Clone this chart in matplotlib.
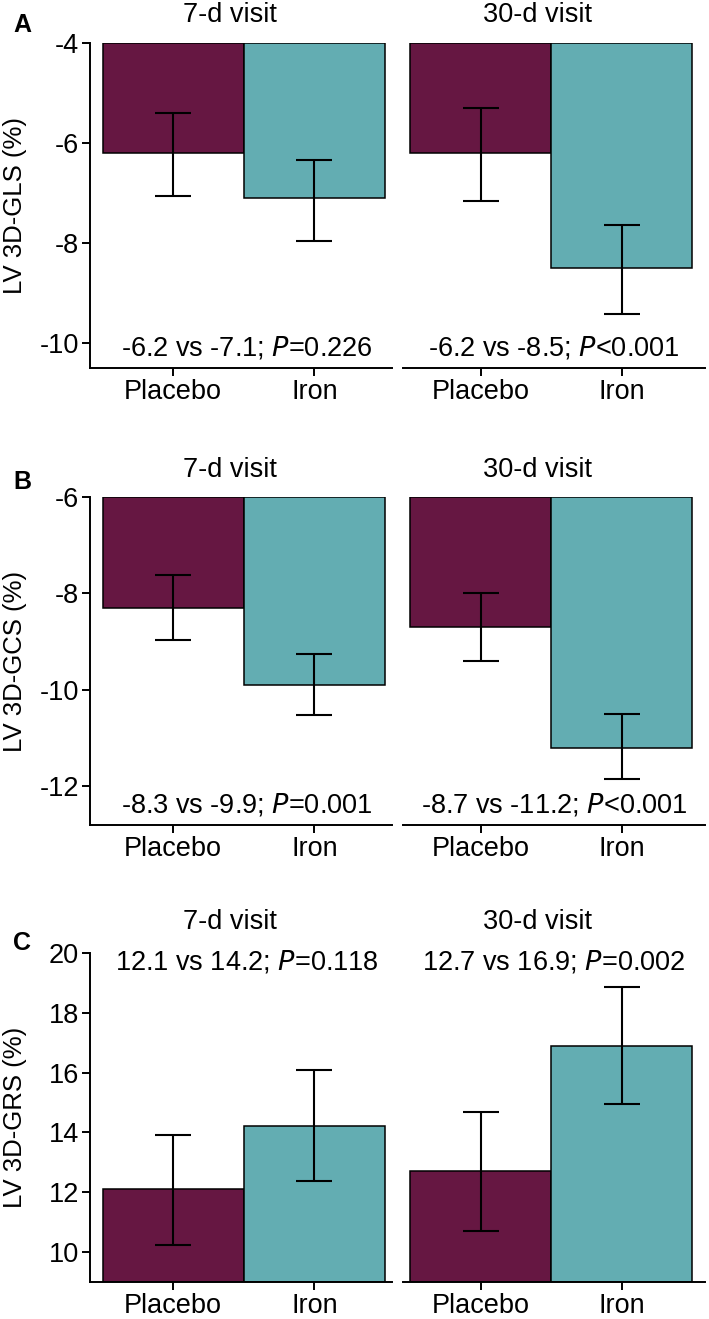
import numpy as np
import matplotlib
matplotlib.use("Agg")
import matplotlib.pyplot as plt

plt.rcParams['font.family'] = ['Liberation Sans', 'DejaVu Sans']
plt.rcParams['axes.unicode_minus'] = False

# data
groups = ["Placebo", "Iron"]
visits = ["7-d visit", "30-d visit"]

gls_mean = [[-6.2, -7.1], [-6.2, -8.5]]
gls_hi = [[-5.4, -6.34], [-5.3, -7.64]]
gls_lo = [[-7.05, -7.96], [-7.16, -9.42]]
gls_text = ["-6.2 vs -7.1; $\\it{P}$=0.226", "-6.2 vs -8.5; $\\it{P}$<0.001"]

gcs_mean = [[-8.3, -9.9], [-8.7, -11.2]]
gcs_hi = [[-7.62, -9.25], [-7.98, -10.5]]
gcs_lo = [[-8.96, -10.51], [-9.39, -11.85]]
gcs_text = ["-8.3 vs -9.9; $\\it{P}$=0.001", "-8.7 vs -11.2; $\\it{P}$<0.001"]

grs_mean = [[12.1, 14.2], [12.7, 16.9]]
grs_hi = [[13.9, 16.08], [14.68, 18.86]]
grs_lo = [[10.25, 12.37], [10.7, 14.95]]
grs_text = ["12.1 vs 14.2; $\\it{P}$=0.118", "12.7 vs 16.9; $\\it{P}$=0.002"]

colors = ["#661742", "#63adb2"]
FS = 19.5


def draw(ax, mean, hi, lo, base, ylim, yticks, note, note_y, first):
    x = np.arange(len(groups))
    mean = np.array(mean)
    ax.bar(x, mean - base, bottom=base, width=1.0, color=colors,
           edgecolor="black", linewidth=1.1, zorder=2)
    err = [mean - np.array(lo), np.array(hi) - mean]
    ax.errorbar(x, mean, yerr=err, fmt="none", ecolor="black",
                elinewidth=1.5, capsize=13, capthick=1.5, zorder=3)
    ax.set_ylim(*ylim)
    ax.set_xticks(x)
    ax.set_xticklabels(groups, fontsize=FS)
    ax.spines["top"].set_visible(False)
    ax.spines["right"].set_visible(False)
    for s in ax.spines.values():
        s.set_linewidth(1.4)
    ax.tick_params(axis="both", length=6, width=1.4, labelsize=FS, pad=2)
    if first:
        ax.set_xlim(-0.59, 1.55)
        ax.set_yticks(yticks)
    else:
        ax.set_xlim(-0.55, 1.59)
        ax.spines["left"].set_visible(False)
        ax.set_yticks([])
    ax.text(0.52, note_y, note, ha="center", va="center", fontsize=FS)


fig = plt.figure(figsize=(7.09, 13.19), dpi=100)

rows = [
    (0.7210, 0.2464, gls_mean, gls_hi, gls_lo, -4, (-10.5, -4), [-10, -8, -6, -4], gls_text, [-10.1, -10.1], "LV 3D-GLS (%)", "A", 0.981, 1.086),
    (0.3745, 0.2487, gcs_mean, gcs_hi, gcs_lo, -6, (-12.8, -6), [-12, -10, -8, -6], gcs_text, [-12.38, -12.38], "LV 3D-GCS (%)", "B", 0.6346, 1.082),
    (0.0281, 0.2494, grs_mean, grs_hi, grs_lo, 9, (9, 20), [10, 12, 14, 16, 18, 20], grs_text, [19.7, 19.7], "LV 3D-GRS (%)", "C", 0.285, 1.094),
]

for bottom, height, mean, hi, lo, base, ylim, yticks, notes, note_ys, ylabel, letter, ly, ty in rows:
    for j in range(2):
        left = 0.1269 if j == 0 else 0.5684
        ax = fig.add_axes([left, bottom, 0.426, height])
        draw(ax, mean[j], hi[j], lo[j], base, ylim, yticks, notes[j], note_ys[j], j == 0)
        ax.text(0.4, ty, visits[j], transform=ax.get_xaxis_transform(),
                ha="center", va="center", fontsize=FS)
        if j == 0:
            ax.set_ylabel(ylabel, fontsize=18.5)
            ax.yaxis.set_label_coords(-0.208, 0.5)
    fig.text(0.031, ly, letter, fontsize=18, fontweight="bold", ha="center", va="center")

fig.savefig("out.png", dpi=100)
